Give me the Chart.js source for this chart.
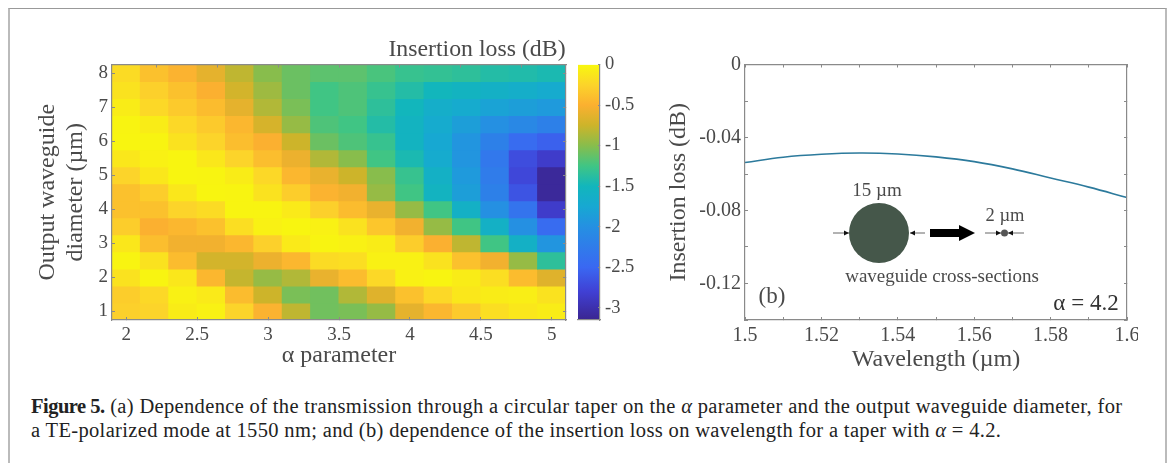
<!DOCTYPE html>
<html>
<head>
<meta charset="utf-8">
<script src="https://cdn.jsdelivr.net/npm/chart.js@4"></script>
<style>
  html, body { margin: 0; padding: 0; background: #fff; }
  body { width: 1171px; height: 463px; position: relative; overflow: hidden; font-family: "Liberation Serif", serif; }
  .frame { position: absolute; left: 8px; top: 8px; width: 1155px; height: 470px; border-top: 1.5px solid #999; border-left: 2px solid #bbb; border-right: 2px solid #bbb; }
  .panel { position: absolute; overflow: hidden; filter: blur(0.45px); }
  .panel canvas { position: absolute; left: 0; top: 0; }
  .note { position: absolute; transform: translate(-50%, -50%); white-space: nowrap; color: #4a4a4a; filter: blur(0.4px); }
  .caption { position: absolute; left: 31px; white-space: nowrap; font-size: 20.5px; letter-spacing: 0.34px; color: #222; }
  .caption b { letter-spacing: -0.5px; }
</style>
</head>
<body>
<div class="frame"></div>

<div class="panel" style="left:0;top:0;width:570px;height:375px"><canvas id="heatCTX" width="570" height="375"></canvas></div>
<div class="panel" style="left:570px;top:0;width:80px;height:375px"><canvas id="barCTX" width="80" height="375"></canvas></div>
<div class="panel" style="left:650px;top:0;width:488px;height:375px"><canvas id="lineCTX" width="520" height="375"></canvas></div>

<div class="note" style="left:477px;top:47.5px;font-size:23.8px">Insertion loss (dB)</div>
<div class="note" style="left:877px;top:190px;font-size:19px">15 µm</div>
<div class="note" style="left:1005px;top:215px;font-size:18.5px">2 µm</div>
<div class="note" style="left:942px;top:276px;font-size:19px">waveguide cross-sections</div>
<div class="note" style="left:772px;top:296px;font-size:23px">(b)</div>
<div class="note" style="left:1086px;top:303px;font-size:23px;color:#333">α = 4.2</div>

<div class="caption" style="top:395px"><b>Figure 5.</b> (a) Dependence of the transmission through a circular taper on the <i>α</i> parameter and the output waveguide diameter, for</div>
<div class="caption" style="top:419px">a TE-polarized mode at 1550 nm; and (b) dependence of the insertion loss on wavelength for a taper with <i>α</i> = 4.2.</div>

<script>
const alphas = [2, 2.2, 2.4, 2.6, 2.8, 3, 3.2, 3.4, 3.6, 3.8, 4, 4.2, 4.4, 4.6, 4.8, 5];
const diameters = [8, 7.5, 7, 6.5, 6, 5.5, 5, 4.5, 4, 3.5, 3, 2.5, 2, 1.5, 1];

// one row per diameter, top row first
const insertionLoss = [
  [-0.2, -0.38, -0.48, -0.62, -0.8, -1.0, -1.1, -1.15, -1.15, -1.22, -1.3, -1.32, -1.35, -1.4, -1.42, -1.45],
  [-0.15, -0.28, -0.38, -0.5, -0.72, -0.92, -1.1, -1.25, -1.2, -1.3, -1.4, -1.5, -1.55, -1.6, -1.65, -1.7],
  [-0.08, -0.22, -0.32, -0.42, -0.62, -0.85, -1.05, -1.25, -1.2, -1.35, -1.5, -1.65, -1.7, -1.8, -1.85, -1.9],
  [-0.03, -0.08, -0.22, -0.32, -0.45, -0.7, -0.95, -1.2, -1.25, -1.4, -1.55, -1.7, -1.85, -2.0, -2.1, -2.2],
  [-0.02, -0.03, -0.15, -0.25, -0.4, -0.5, -0.75, -1.1, -1.2, -1.3, -1.55, -1.75, -1.95, -2.2, -2.45, -2.55],
  [-0.12, -0.05, -0.02, -0.12, -0.25, -0.4, -0.58, -0.85, -1.0, -1.25, -1.45, -1.7, -1.95, -2.3, -2.7, -2.85],
  [-0.25, -0.12, -0.02, -0.03, -0.08, -0.22, -0.45, -0.6, -0.75, -1.0, -1.3, -1.6, -1.9, -2.25, -2.75, -3.1],
  [-0.38, -0.3, -0.12, -0.02, -0.03, -0.15, -0.3, -0.48, -0.55, -0.95, -1.25, -1.55, -1.85, -2.2, -2.65, -3.1],
  [-0.38, -0.38, -0.25, -0.2, -0.03, -0.03, -0.1, -0.28, -0.42, -0.6, -0.95, -1.25, -1.6, -2.0, -2.35, -2.85],
  [-0.3, -0.5, -0.45, -0.38, -0.18, -0.05, -0.02, -0.05, -0.15, -0.35, -0.55, -0.95, -1.25, -1.6, -2.0, -2.45],
  [-0.12, -0.4, -0.55, -0.55, -0.45, -0.28, -0.1, -0.03, -0.05, -0.08, -0.3, -0.5, -0.8, -1.25, -1.6, -1.95],
  [-0.03, -0.15, -0.42, -0.72, -0.72, -0.58, -0.45, -0.2, -0.18, -0.05, -0.05, -0.15, -0.38, -0.55, -0.95, -1.35],
  [-0.15, -0.03, -0.12, -0.45, -0.78, -0.95, -0.85, -0.6, -0.42, -0.22, -0.05, -0.03, -0.08, -0.18, -0.42, -0.65],
  [-0.3, -0.22, -0.05, -0.1, -0.42, -0.75, -1.05, -1.08, -0.85, -0.65, -0.38, -0.22, -0.12, -0.08, -0.07, -0.15],
  [-0.28, -0.25, -0.08, -0.05, -0.25, -0.48, -0.8, -1.08, -1.05, -0.95, -0.62, -0.45, -0.32, -0.18, -0.12, -0.08],
];

const wavelengths = [1.5, 1.51, 1.52, 1.53, 1.54, 1.55, 1.56, 1.57, 1.58, 1.59, 1.6];
const curveLoss = [-0.0537, -0.0508, -0.0492, -0.0485, -0.049, -0.0506, -0.0532, -0.0572, -0.0622, -0.0672, -0.0729];

const mapValues = [0, -0.25, -0.5, -0.75, -1, -1.25, -1.5, -1.75, -2, -2.5, -2.8, -3.15];
const mapColors = ["#f8f80e", "#fcd42a", "#fbb030", "#cdb42a", "#88bd4c", "#40c584", "#12b6bc", "#17a8d2", "#2590e2", "#3a68f2", "#4040d4", "#3a2590"];

const inkColor = "#4a4a4a";
const axisColor = "#8a8a8a";

function hexToRgb(hex) {
  return [1, 3, 5].map((i) => parseInt(hex.slice(i, i + 2), 16));
}

function lossColor(val) {
  for (let i = 1; i < mapValues.length; i++) {
    if (val >= mapValues[i]) {
      const t = (mapValues[i - 1] - val) / (mapValues[i - 1] - mapValues[i]);
      const a = hexToRgb(mapColors[i - 1]);
      const b = hexToRgb(mapColors[i]);
      return "rgb(" + a.map((c, k) => Math.round(c + (b[k] - c) * t)).join(",") + ")";
    }
  }
  return mapColors[mapColors.length - 1];
}

// inward tick marks, plot boxes come from fixed axis sizes
function fixedWidth(w) {
  return (scale) => { scale.width = w; };
}
function fixedHeight(h) {
  return (scale) => { scale.height = h; };
}
function tickGrid(len) {
  return { drawOnChartArea: false, tickLength: -len, color: axisColor, z: 1 };
}
const edge = { display: true, color: axisColor, width: 1.2, z: 1 };
const noLabels = { display: false };
const serif = (size) => ({ family: "Liberation Serif", size: size });
const plainNumber = (val) => String(val);

const heatData = {
  datasets: diameters.map((d, r) => ({
    label: "d" + d,
    data: alphas.map((a) => ({ x: a, y: [d - 0.25, d + 0.25] })),
    backgroundColor: insertionLoss[r].map(lossColor),
    borderWidth: 0,
    inflateAmount: 0.5,
    barPercentage: 1,
    categoryPercentage: 1,
  })),
};

const heatOptions = {
  responsive: false,
  animation: false,
  layout: { padding: { left: 33, right: 4, top: 64.5, bottom: 4.5 } },
  plugins: { legend: { display: false }, tooltip: { enabled: false } },
  scales: {
    x: {
      type: "linear", stacked: true, offset: false, min: 1.9, max: 5.1,
      afterFit: fixedHeight(50.5),
      grid: { ...tickGrid(3), offset: false }, border: edge,
      ticks: { stepSize: 0.5, includeBounds: false, maxRotation: 0, padding: 7, callback: plainNumber, color: inkColor, font: serif(19) },
      title: { display: true, text: "α parameter", color: inkColor, font: serif(24), padding: 0 },
    },
    y: {
      type: "linear", min: 0.75, max: 8.25,
      afterFit: fixedWidth(79),
      grid: tickGrid(3), border: edge,
      ticks: { stepSize: 1, includeBounds: false, padding: 7, callback: plainNumber, color: inkColor, font: serif(19) },
      title: { display: true, text: ["Output waveguide", "diameter (µm)"], color: inkColor, font: serif(24), padding: 0 },
    },
    x2: {
      type: "linear", position: "top", min: 1.9, max: 5.1, afterFit: fixedHeight(0),
      grid: { ...tickGrid(3), offset: false }, border: edge,
      ticks: { ...noLabels, stepSize: 0.5, includeBounds: false },
    },
    y2: {
      type: "linear", position: "right", min: 0.75, max: 8.25, afterFit: fixedWidth(0),
      grid: tickGrid(3), border: edge,
      ticks: { ...noLabels, stepSize: 1, includeBounds: false },
    },
  },
};

const barData = {
  labels: ["loss"],
  datasets: [
    {
      data: [[mapValues[mapValues.length - 1], mapValues[0]]],
      backgroundColor: function (c) {
        const { ctx, chartArea, scales } = c.chart;
        if (!chartArea) return mapColors[0];
        const top = scales.y.getPixelForValue(mapValues[0]);
        const bottom = scales.y.getPixelForValue(mapValues[mapValues.length - 1]);
        const fill = ctx.createLinearGradient(0, top, 0, bottom);
        mapValues.forEach((v, i) => {
          fill.addColorStop((v - mapValues[0]) / (mapValues[mapValues.length - 1] - mapValues[0]), mapColors[i]);
        });
        return fill;
      },
      borderWidth: 0,
      barPercentage: 1,
      categoryPercentage: 1,
    },
  ],
};

const barOptions = {
  responsive: false,
  animation: false,
  layout: { padding: { left: 8, right: 0, top: 64.5, bottom: 55 } },
  plugins: { legend: { display: false }, tooltip: { enabled: false } },
  scales: {
    x: { afterFit: fixedHeight(0), grid: { display: false }, border: edge, ticks: noLabels },
    y: {
      position: "right", min: -3.15, max: 0,
      afterFit: fixedWidth(50),
      grid: tickGrid(2), border: edge,
      ticks: { stepSize: 0.5, includeBounds: false, padding: 7, callback: plainNumber, color: inkColor, font: serif(18.5) },
    },
  },
};

// drawing of the taper ends, in pixels of this canvas
function arrowLine(ctx, x1, x2, y, head) {
  ctx.strokeStyle = "#666";
  ctx.lineWidth = 1;
  ctx.beginPath();
  ctx.moveTo(x1, y);
  ctx.lineTo(x2, y);
  ctx.stroke();
  const dir = x2 > x1 ? 1 : -1;
  ctx.fillStyle = "#111";
  ctx.beginPath();
  ctx.moveTo(x2, y);
  ctx.lineTo(x2 - dir * head, y - 2.5);
  ctx.lineTo(x2 - dir * head, y + 2.5);
  ctx.fill();
}

const insetPlugin = {
  id: "inset",
  afterDraw(chart) {
    const ctx = chart.ctx;
    const y = 233;
    ctx.save();
    ctx.fillStyle = "#45574a";
    ctx.beginPath();
    ctx.arc(229, y, 30, 0, Math.PI * 2);
    ctx.fill();
    arrowLine(ctx, 183, 199, y, 5);
    arrowLine(ctx, 275, 260, y, 5);

    ctx.fillStyle = "#000";
    ctx.beginPath();
    ctx.moveTo(280, y - 4);
    ctx.lineTo(309, y - 4);
    ctx.lineTo(309, y - 8);
    ctx.lineTo(325, y);
    ctx.lineTo(309, y + 8);
    ctx.lineTo(309, y + 4);
    ctx.lineTo(280, y + 4);
    ctx.fill();

    arrowLine(ctx, 335, 351, y, 5);
    arrowLine(ctx, 374, 358, y, 5);
    ctx.fillStyle = "#555";
    ctx.beginPath();
    ctx.arc(354.5, y, 3.5, 0, Math.PI * 2);
    ctx.fill();
    ctx.restore();
  },
};

const lineData = {
  datasets: [
    {
      data: wavelengths.map((w, i) => ({ x: w, y: curveLoss[i] })),
      borderColor: "#2c7a9c",
      borderWidth: 1.6,
      pointRadius: 0,
      tension: 0.4,
      clip: false,
    },
  ],
};

function wavelengthLabel(val) {
  const hundredths = Math.round(val * 100);
  return hundredths % 2 === 0 ? String(hundredths / 100) : "";
}
function lossLabel(val) {
  const hundredths = Math.round(val * 100);
  if (hundredths === 0) return "0";
  return hundredths % 4 === 0 ? (hundredths / 100).toFixed(2) : "";
}

const lineOptions = {
  responsive: false,
  animation: false,
  layout: { padding: { left: 14, right: 43, top: 64.5, bottom: 1 } },
  plugins: { legend: { display: false }, tooltip: { enabled: false } },
  scales: {
    x: {
      type: "linear", min: 1.5, max: 1.6,
      afterFit: fixedHeight(54),
      grid: tickGrid(3), border: edge,
      ticks: { stepSize: 0.01, autoSkip: false, maxRotation: 0, padding: 7, callback: wavelengthLabel, color: inkColor, font: serif(20) },
      title: { display: true, text: "Wavelength (µm)", color: inkColor, font: serif(24), padding: 0 },
    },
    y: {
      type: "linear", min: -0.14, max: 0,
      afterFit: fixedWidth(81),
      grid: tickGrid(3), border: edge,
      ticks: { stepSize: 0.02, autoSkip: false, padding: 7, callback: lossLabel, color: inkColor, font: serif(20) },
      title: { display: true, text: "Insertion loss (dB)", color: inkColor, font: serif(24), padding: 0 },
    },
    x2: {
      type: "linear", position: "top", min: 1.5, max: 1.6, afterFit: fixedHeight(0),
      grid: tickGrid(3), border: edge,
      ticks: { ...noLabels, stepSize: 0.01 },
    },
    y2: {
      type: "linear", position: "right", min: -0.14, max: 0, afterFit: fixedWidth(0),
      grid: tickGrid(3), border: edge,
      ticks: { ...noLabels, stepSize: 0.02 },
    },
  },
};

const heatChart = new Chart(document.getElementById("heatCTX"), {
  type: "bar",
  data: heatData,
  options: heatOptions,
});

const barChart = new Chart(document.getElementById("barCTX"), {
  type: "bar",
  data: barData,
  options: barOptions,
});

const lineChart = new Chart(document.getElementById("lineCTX"), {
  type: "line",
  data: lineData,
  options: lineOptions,
  plugins: [insetPlugin],
});
</script>
</body>
</html>
